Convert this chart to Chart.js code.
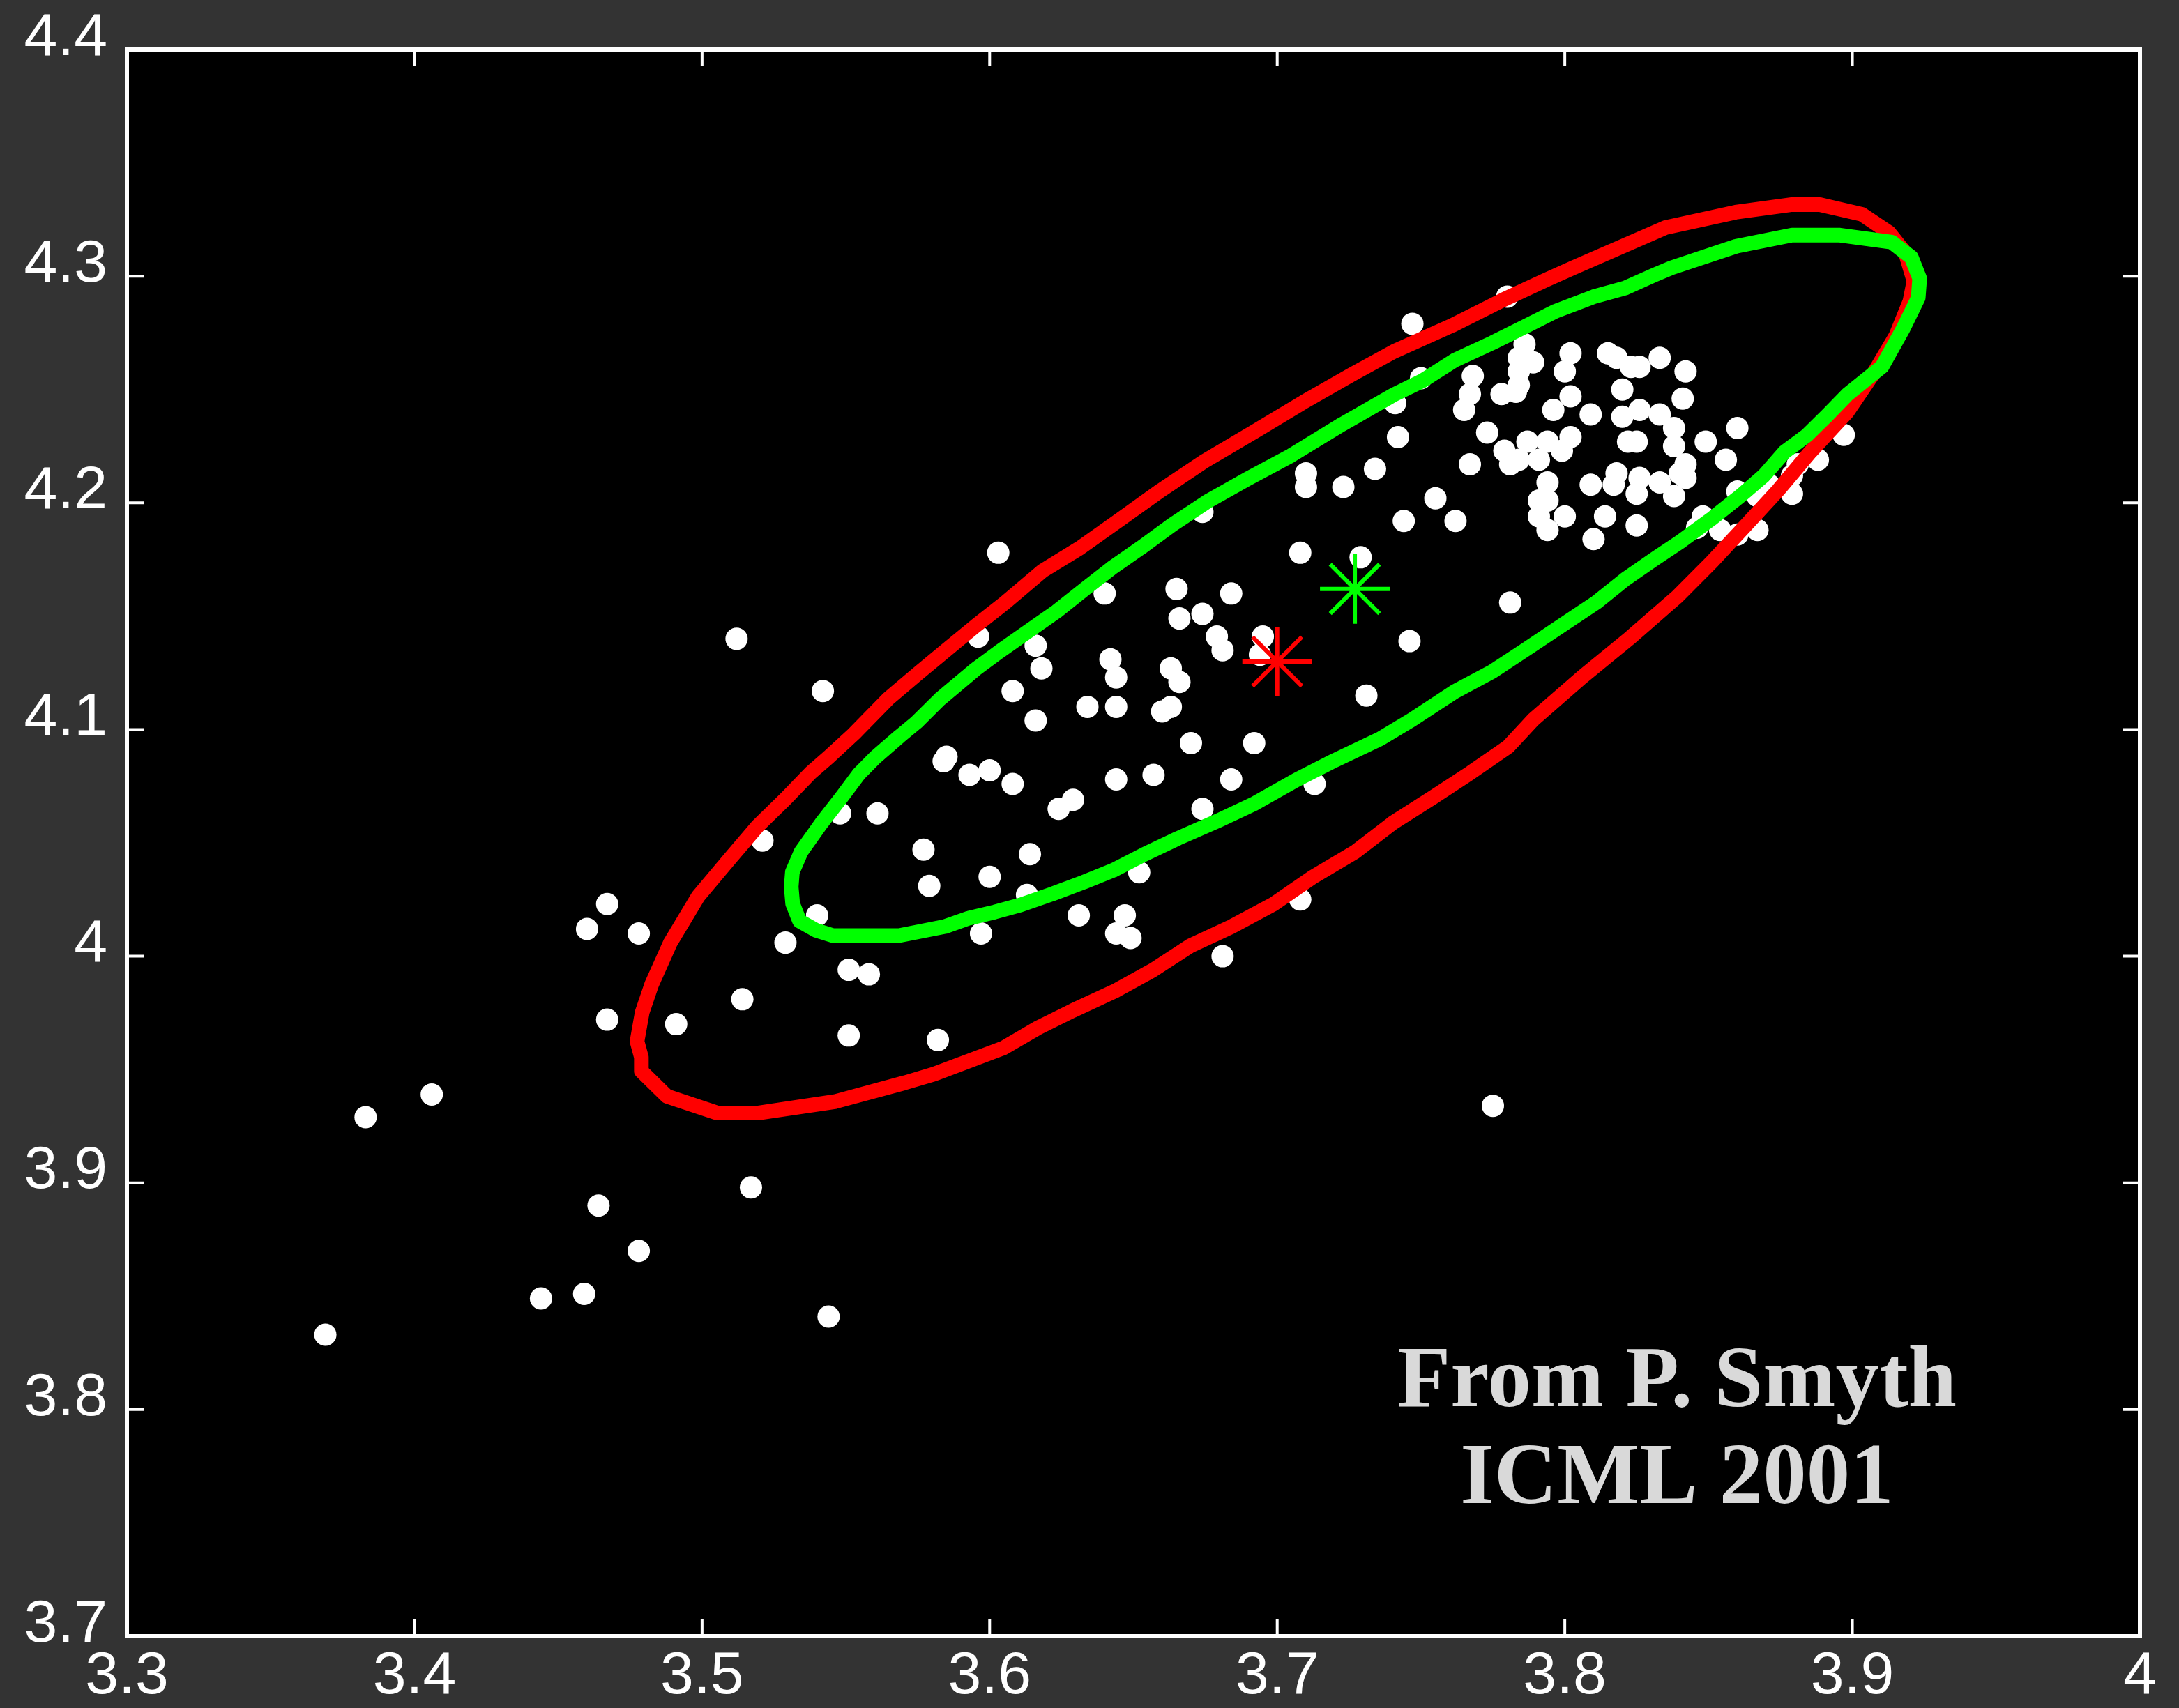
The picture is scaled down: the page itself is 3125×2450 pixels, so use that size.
<!DOCTYPE html>
<html>
<head>
<meta charset="utf-8">
<title>From P. Smyth ICML 2001 – mixture contours</title>
<script src="https://cdn.jsdelivr.net/npm/chart.js@4.4.1/dist/chart.umd.min.js"></script>
<style>
  html, body { margin: 0; padding: 0; background: #333333; }
  #wrap { width: 3125px; height: 2450px; }
</style>
</head>
<body>
<div id="wrap"><canvas id="chart" width="3125" height="2450"></canvas></div>
<script>
/* ---- axis ticks ---- */
const X_TICKS = [3.3, 3.4, 3.5, 3.6, 3.7, 3.8, 3.9, 4.0];
const Y_TICKS = [3.7, 3.8, 3.9, 4.0, 4.1, 4.2, 4.3, 4.4];

/* ---- observed samples (x, y) ---- */
const SAMPLES = [
  [3.780, 4.291], [3.747, 4.279], [3.750, 4.255], [3.741, 4.244], [3.742, 4.229], [3.744, 4.192],
  [3.755, 4.202], [3.762, 4.192], [3.767, 4.217], [3.773, 4.231], [3.765, 4.241], [3.767, 4.248],
  [3.768, 4.256], [3.778, 4.248], [3.783, 4.249], [3.784, 4.252], [3.784, 4.258], [3.784, 4.264],
  [3.789, 4.262], [3.786, 4.270], [3.779, 4.223], [3.781, 4.217], [3.784, 4.219], [3.787, 4.227],
  [3.791, 4.219], [3.794, 4.227], [3.799, 4.223], [3.802, 4.229], [3.796, 4.241], [3.802, 4.247],
  [3.800, 4.258], [3.802, 4.266], [3.809, 4.239], [3.794, 4.209], [3.791, 4.201], [3.794, 4.201],
  [3.791, 4.194], [3.794, 4.188], [3.800, 4.194], [3.809, 4.208], [3.814, 4.194], [3.810, 4.184],
  [3.817, 4.208], [3.818, 4.213], [3.825, 4.190], [3.825, 4.204], [3.826, 4.211], [3.833, 4.209],
  [3.838, 4.203], [3.840, 4.213], [3.842, 4.211], [3.842, 4.217], [3.822, 4.227], [3.825, 4.227],
  [3.820, 4.238], [3.826, 4.241], [3.833, 4.239], [3.838, 4.233], [3.838, 4.225], [3.820, 4.250],
  [3.841, 4.246], [3.842, 4.258], [3.833, 4.264], [3.826, 4.260], [3.823, 4.260], [3.818, 4.264],
  [3.815, 4.266], [3.849, 4.227], [3.856, 4.219], [3.860, 4.233], [3.848, 4.194], [3.846, 4.189],
  [3.854, 4.188], [3.860, 4.205], [3.860, 4.186], [3.867, 4.188], [3.867, 4.203], [3.871, 4.208],
  [3.879, 4.204], [3.879, 4.212], [3.881, 4.217], [3.888, 4.219], [3.897, 4.230], [3.781, 4.156],
  [3.746, 4.139],
  [3.710, 4.213], [3.710, 4.207], [3.723, 4.207], [3.734, 4.215], [3.674, 4.196], [3.603, 4.178],
  [3.708, 4.178], [3.729, 4.176], [3.665, 4.162], [3.684, 4.160], [3.640, 4.160], [3.666, 4.149],
  [3.674, 4.151], [3.679, 4.141], [3.681, 4.135], [3.695, 4.141], [3.694, 4.133], [3.596, 4.141],
  [3.616, 4.137], [3.618, 4.127], [3.608, 4.117], [3.616, 4.104], [3.642, 4.131], [3.644, 4.123],
  [3.663, 4.127], [3.666, 4.121], [3.634, 4.110], [3.644, 4.110], [3.660, 4.108], [3.663, 4.110],
  [3.731, 4.115], [3.670, 4.094], [3.692, 4.094], [3.600, 4.082], [3.608, 4.076], [3.644, 4.078],
  [3.657, 4.080], [3.684, 4.078], [3.713, 4.076], [3.624, 4.065], [3.629, 4.069], [3.674, 4.065],
  [3.614, 4.045], [3.600, 4.035], [3.652, 4.037], [3.613, 4.027], [3.708, 4.025],
  [3.584, 4.086], [3.585, 4.088], [3.593, 4.080], [3.548, 4.063], [3.561, 4.063], [3.521, 4.051],
  [3.577, 4.047], [3.579, 4.031], [3.540, 4.018], [3.631, 4.018], [3.647, 4.018], [3.644, 4.010],
  [3.649, 4.008], [3.597, 4.010], [3.529, 4.006], [3.551, 3.994], [3.558, 3.992], [3.514, 3.981],
  [3.551, 3.965], [3.582, 3.963],
  [3.512, 4.140], [3.542, 4.117], [3.681, 4.000], [3.775, 3.934],
  [3.467, 4.023], [3.460, 4.012], [3.478, 4.010], [3.467, 3.972], [3.491, 3.970], [3.406, 3.939],
  [3.383, 3.929], [3.464, 3.890], [3.478, 3.870], [3.444, 3.849], [3.459, 3.851], [3.369, 3.833],
  [3.517, 3.898], [3.544, 3.841]
];

/* ---- red contour (closed) ---- */
const RED_X = [3.4774, 3.4792, 3.4825, 3.4890, 3.4987, 3.5095, 3.5192, 3.5290, 3.5376, 3.5441, 3.5528, 3.5646,
  3.5746, 3.5848, 3.5952, 3.6053, 3.6183, 3.6314, 3.6455, 3.6595, 3.6746, 3.6922, 3.7091, 3.7261, 3.7406, 3.7607,
  3.7788, 3.7939, 3.8029, 3.8352, 3.8594, 3.8790, 3.8887, 3.9033, 3.9127, 3.9185, 3.9214, 3.9200, 3.9151, 3.9079,
  3.8982, 3.8853, 3.8743, 3.8632, 3.8511, 3.8391, 3.8230, 3.8059, 3.7889, 3.7803, 3.7673, 3.7542, 3.7401, 3.7271,
  3.7120, 3.6989, 3.6839, 3.6698, 3.6567, 3.6440, 3.6289, 3.6168, 3.6048, 3.5807, 3.5706, 3.5465, 3.5193, 3.5053,
  3.4878, 3.4789, 3.4789];
const RED_Y = [3.9624, 3.9753, 3.9876, 4.0060, 4.0265, 4.0428, 4.0572, 4.0694, 4.0807, 4.0879, 4.0981, 4.1134,
  4.1242, 4.1349, 4.1458, 4.1559, 4.1699, 4.1801, 4.1928, 4.2055, 4.2183, 4.2315, 4.2444, 4.2567, 4.2668, 4.2782,
  4.2897, 4.2986, 4.3037, 4.3215, 4.3282, 4.3316, 4.3316, 4.3273, 4.3193, 4.3101, 4.2978, 4.2889, 4.2736, 4.2582,
  4.2400, 4.2223, 4.2057, 4.1904, 4.1739, 4.1586, 4.1408, 4.1230, 4.1042, 4.0924, 4.0810, 4.0701, 4.0587, 4.0460,
  4.0346, 4.0231, 4.0129, 4.0046, 3.9938, 3.9849, 3.9760, 3.9684, 3.9595, 3.9480, 3.9442, 3.9359, 3.9308, 3.9308,
  3.9382, 3.9493, 3.9554];

/* ---- green contour (closed) ---- */
const GREEN_X = [3.5310, 3.5314, 3.5344, 3.5415, 3.5485, 3.5545, 3.5605, 3.5686, 3.5746, 3.5827, 3.5952, 3.6033,
  3.6133, 3.6233, 3.6334, 3.6424, 3.6525, 3.6635, 3.6756, 3.6897, 3.7047, 3.7225, 3.7406, 3.7507, 3.7617, 3.7748,
  3.7848, 3.7969, 3.8100, 3.8210, 3.8311, 3.8371, 3.8596, 3.8790, 3.8957, 3.9137, 3.9205, 3.9234, 3.9229, 3.9176,
  3.9103, 3.8982, 3.8914, 3.8843, 3.8763, 3.8693, 3.8612, 3.8511, 3.8401, 3.8311, 3.8210, 3.8110, 3.7989, 3.7869,
  3.7748, 3.7617, 3.7467, 3.7358, 3.7200, 3.7067, 3.6922, 3.6788, 3.6655, 3.6534, 3.6430, 3.6328, 3.6219, 3.6107,
  3.6018, 3.5928, 3.5845, 3.5685, 3.5455, 3.5395, 3.5339, 3.5315];
const GREEN_Y = [4.0306, 4.0371, 4.0460, 4.0587, 4.0701, 4.0803, 4.0880, 4.0969, 4.1032, 4.1134, 4.1267, 4.1343,
  4.1432, 4.1521, 4.1623, 4.1712, 4.1801, 4.1903, 4.2005, 4.2106, 4.2208, 4.2346, 4.2477, 4.2540, 4.2629, 4.2706,
  4.2769, 4.2846, 4.2909, 4.2948, 4.3005, 4.3037, 4.3132, 4.3181, 4.3181, 4.3150, 4.3083, 4.2990, 4.2905, 4.2767,
  4.2601, 4.2477, 4.2388, 4.2299, 4.2223, 4.2121, 4.2032, 4.1930, 4.1828, 4.1752, 4.1663, 4.1561, 4.1459, 4.1357,
  4.1256, 4.1167, 4.1042, 4.0959, 4.0864, 4.0778, 4.0674, 4.0594, 4.0520, 4.0447, 4.0379, 4.0327, 4.0275, 4.0226,
  4.0195, 4.0168, 4.0131, 4.0091, 4.0091, 4.0115, 4.0155, 4.0232];

/* ---- component means ---- */
const RED_MEAN = [3.700, 4.130];
const GREEN_MEAN = [3.727, 4.162];

/* ---- annotation ---- */
const NOTE_LINES = ['From P. Smyth', 'ICML 2001'];
const NOTE_X = 3.839;
const NOTE_BASELINES = [3.8014, 3.7587];

const COLORS = {
  page: '#333333',
  plot: '#000000',
  axis: '#ffffff',
  dot: '#ffffff',
  red: '#ff0000',
  green: '#00ff00',
  note: '#d9d9d9',
};

const LABEL_FONT = { family: '"Liberation Sans", Arial, Helvetica, sans-serif', size: 86, lineHeight: 1 };
const TICK_LEN = 24;

function toPoints(xs, ys) {
  return xs.map((x, i) => ({ x, y: ys[i] }));
}

function closeLoop(pts) {
  return pts.concat([pts[0]]);
}

const tickLabel = v => String(Math.round(v * 10) / 10);

// background, black plot box, inward ticks and the text note
const framePlugin = {
  id: 'frame',
  beforeDraw(chart) {
    const { ctx, chartArea: a } = chart;
    ctx.save();
    ctx.fillStyle = COLORS.page;
    ctx.fillRect(0, 0, chart.width, chart.height);
    ctx.fillStyle = COLORS.plot;
    ctx.fillRect(a.left, a.top, a.right - a.left, a.bottom - a.top);
    ctx.restore();
  },
  afterDatasetsDraw(chart) {
    const { ctx, chartArea: a, scales } = chart;
    ctx.save();
    ctx.strokeStyle = COLORS.axis;
    ctx.lineWidth = 4;
    ctx.beginPath();
    X_TICKS.forEach(v => {
      const px = scales.x.getPixelForValue(v);
      ctx.moveTo(px, a.bottom);
      ctx.lineTo(px, a.bottom - TICK_LEN);
      ctx.moveTo(px, a.top);
      ctx.lineTo(px, a.top + TICK_LEN);
    });
    Y_TICKS.forEach(v => {
      const py = scales.y.getPixelForValue(v);
      ctx.moveTo(a.left, py);
      ctx.lineTo(a.left + TICK_LEN, py);
      ctx.moveTo(a.right, py);
      ctx.lineTo(a.right - TICK_LEN, py);
    });
    ctx.stroke();
    ctx.lineWidth = 6;
    ctx.strokeRect(a.left, a.top, a.right - a.left, a.bottom - a.top);
    ctx.restore();
  },
  afterDraw(chart) {
    const { ctx, scales } = chart;
    ctx.save();
    ctx.font = 'bold 125px "Liberation Serif", "Times New Roman", serif';
    ctx.fillStyle = COLORS.note;
    ctx.textAlign = 'center';
    ctx.textBaseline = 'alphabetic';
    const x = scales.x.getPixelForValue(NOTE_X);
    NOTE_LINES.forEach((t, i) => {
      ctx.fillText(t, x, scales.y.getPixelForValue(NOTE_BASELINES[i]));
    });
    ctx.restore();
  },
};

function buildChart() {
  const ctx = document.getElementById('chart').getContext('2d');

  new Chart(ctx, {
    type: 'scatter',
    data: {
      datasets: [
        {
          label: 'red mean',
          data: [{ x: RED_MEAN[0], y: RED_MEAN[1] }],
          pointStyle: 'star',
          pointRadius: 50,
          borderColor: COLORS.red,
          backgroundColor: COLORS.red,
          borderWidth: 6,
          order: 0,
        },
        {
          label: 'green mean',
          data: [{ x: GREEN_MEAN[0], y: GREEN_MEAN[1] }],
          pointStyle: 'star',
          pointRadius: 50,
          borderColor: COLORS.green,
          backgroundColor: COLORS.green,
          borderWidth: 6,
          order: 0,
        },
        {
          label: 'green contour',
          data: closeLoop(toPoints(GREEN_X, GREEN_Y)),
          showLine: true,
          pointRadius: 0,
          borderColor: COLORS.green,
          borderWidth: 21,
          borderJoinStyle: 'round',
          borderCapStyle: 'round',
          tension: 0,
          fill: false,
          order: 1,
        },
        {
          label: 'red contour',
          data: closeLoop(toPoints(RED_X, RED_Y)),
          showLine: true,
          pointRadius: 0,
          borderColor: COLORS.red,
          borderWidth: 21,
          borderJoinStyle: 'round',
          borderCapStyle: 'round',
          tension: 0,
          fill: false,
          order: 2,
        },
        {
          label: 'samples',
          data: SAMPLES.map(([x, y]) => ({ x, y })),
          pointRadius: 16,
          pointBackgroundColor: COLORS.dot,
          pointBorderWidth: 0,
          order: 3,
        },
      ],
    },
    options: {
      responsive: false,
      devicePixelRatio: 1,
      animation: false,
      events: [],
      layout: { padding: { top: 66, right: 55, left: 0, bottom: 0 } },
      plugins: {
        legend: { display: false },
        tooltip: { enabled: false },
      },
      scales: {
        x: {
          type: 'linear',
          position: 'bottom',
          min: 3.3,
          max: 4.0,
          afterBuildTicks: s => { s.ticks = X_TICKS.map(v => ({ value: v })); },
          afterFit: s => { s.height = 103; },
          grid: { display: false, drawTicks: false },
          border: { display: false },
          ticks: {
            color: COLORS.axis,
            font: LABEL_FONT,
            padding: 15,
            maxRotation: 0,
            autoSkip: false,
            callback: tickLabel,
          },
        },
        y: {
          type: 'linear',
          position: 'left',
          min: 3.7,
          max: 4.4,
          afterBuildTicks: s => { s.ticks = Y_TICKS.map(v => ({ value: v })); },
          afterFit: s => { s.width = 182; },
          grid: { display: false, drawTicks: false },
          border: { display: false },
          ticks: {
            color: COLORS.axis,
            font: LABEL_FONT,
            padding: 28,
            labelOffset: -16,
            autoSkip: false,
            callback: tickLabel,
          },
        },
      },
    },
    plugins: [framePlugin],
  });
}

document.addEventListener('DOMContentLoaded', buildChart);
</script>
</body>
</html>
